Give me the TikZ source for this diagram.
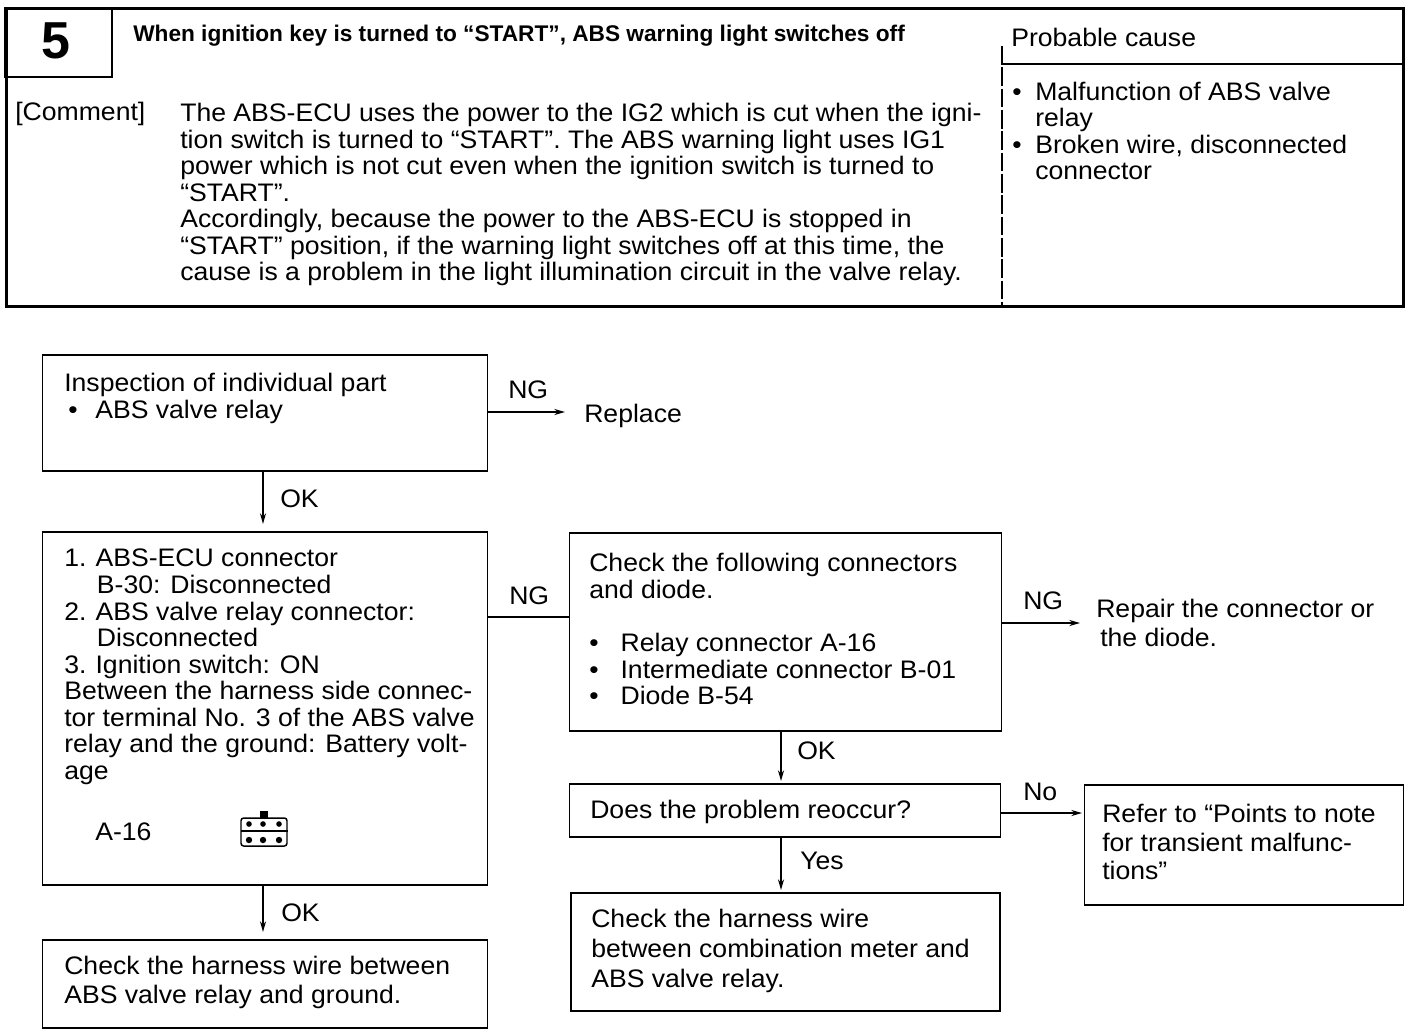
\documentclass[tikz,border=0pt]{standalone}
\usepackage{fontspec}
\setmainfont{Liberation Sans}
\newfontfamily\widefont[FakeStretch=1.05]{Liberation Sans}
\usetikzlibrary{arrows.meta}
\newcommand{\pxfont}{\widefont\fontsize{19pt}{19.9pt}\selectfont}
\newcommand{\numitem}[1]{\makebox[23.5pt][l]{#1}}
\tikzset{
  x=0.75pt,y=-0.75pt,
  thickline/.style={line width=2.2pt,black},
  thinline/.style={line width=1.3pt,black},
  flowbox/.style={draw=black,line width=1.4pt,anchor=north west,inner sep=0pt,fill=none},
  para/.style={anchor=north west,inner sep=0pt,align=left,font=\pxfont,text=black},
  tag/.style={anchor=base west,inner sep=0pt,font=\pxfont,text=black},
  flow/.style={draw=black,line width=1.3pt,-{Stealth[length=8pt,width=4.5pt]}},
  plainflow/.style={draw=black,line width=1.3pt}
}
\begin{document}
\begin{tikzpicture}
\useasboundingbox (0,0) rectangle (1408,1032);
\fill[white] (0,0) rectangle (1408,1032);
% header frame
\node[draw=black,line width=2.2pt,anchor=north west,minimum width=1397*0.75pt,minimum height=298*0.75pt,inner sep=0pt] (frame) at (5,7) {};
\node[draw=black,line width=1.6pt,anchor=north west,minimum width=107*0.75pt,minimum height=69*0.75pt,inner sep=0pt] (numbox) at (4,7) {};
\node[inner sep=0pt,font=\bfseries\fontsize{39pt}{39pt}\selectfont] (num) at (56,41) {5};
\node[tag,font=\bfseries\fontsize{17pt}{18pt}\selectfont] (title) at (133,41) {When ignition key is turned to “START”, ABS warning light switches off};
\node[tag] (pc) at (1011,46) {Probable cause};
\node[tag] (cmt) at (15,120) {[Comment]};
\node[para] (body) at (180,103) {The ABS-ECU uses the power to the IG2 which is cut when the igni-\\
tion switch is turned to “START”. The ABS warning light uses IG1\\
power which is not cut even when the ignition switch is turned to\\
“START”.\\
Accordingly, because the power to the ABS-ECU is stopped in\\
“START” position, if the warning light switches off at this time, the\\
cause is a problem in the light illumination circuit in the valve relay.};
\coordinate (pctop) at (1002,46);
\coordinate (pcbot) at (1002,305);
\coordinate (pcl) at (1002,64);
\coordinate (pcr) at (1403,64);
\draw[thinline,dash pattern=on 14pt off 2pt] (pctop) -- (pcbot);
\draw[thinline] (pcl) -- (pcr);
\node[tag] (c1) at (1012,100) {•};
\node[tag] (c1t) at (1035,100) {Malfunction of ABS valve};
\node[tag] (c1u) at (1035,126) {relay};
\node[tag] (c2) at (1012,153) {•};
\node[tag] (c2t) at (1035,153) {Broken wire, disconnected};
\node[tag] (c2u) at (1035,179) {connector};
% flow boxes
\node[flowbox,minimum width=445*0.75pt,minimum height=116*0.75pt] (b1) at (41.5,354) {};
\node[tag] (t1) at (64,391) {Inspection of individual part};
\node[tag] (t1b) at (68,418) {•};
\node[tag] (t1c) at (95,418) {ABS valve relay};
\node[tag] (replace) at (584,422) {Replace};
\node[flowbox,minimum width=445*0.75pt,minimum height=353*0.75pt] (b2) at (41.5,531) {};
\node[para] (t2) at (64,549) {\numitem{1.}ABS-ECU connector\\
\hspace*{24.5pt}B-30: Disconnected\\
\numitem{2.}ABS valve relay connector:\\
\hspace*{24.5pt}Disconnected\\
\numitem{3.}Ignition switch: ON\\
Between the harness side connec-\\
tor terminal No. 3 of the ABS valve\\
relay and the ground: Battery volt-\\
age};
\node[tag] (a16) at (95,840) {A-16};
\node[flowbox,minimum width=445*0.75pt,minimum height=88*0.75pt] (b3) at (41.5,939) {};
\node[para] (t3) at (64,956) {Check the harness wire between\\[1.8pt]ABS valve relay and ground.};
\node[flowbox,minimum width=432*0.75pt,minimum height=198*0.75pt] (b4) at (568.5,532) {};
\node[para] (t4) at (589,553) {Check the following connectors\\and diode.};
\node[para] (t4b) at (589,633) {•\hspace{16.5pt}Relay connector A-16\\•\hspace{16.5pt}Intermediate connector B-01\\•\hspace{16.5pt}Diode B-54};
\node[flowbox,minimum width=431*0.75pt,minimum height=53*0.75pt] (b5) at (568.5,783) {};
\node[para] (t5) at (590,800) {Does the problem reoccur?};
\node[flowbox,minimum width=429*0.75pt,minimum height=118*0.75pt] (b6) at (570,892) {};
\node[para] (t6) at (591,909) {Check the harness wire\\[2.6pt]between combination meter and\\[2.6pt]ABS valve relay.};
\node[flowbox,minimum width=319*0.75pt,minimum height=120*0.75pt] (b7) at (1083.5,784) {};
\node[para] (t7) at (1102,804) {Refer to “Points to note\\[1.6pt]for transient malfunc-\\[1.6pt]tions”};
\node[para] (t8) at (1096,599) {Repair the connector or\\[1.8pt]\hspace*{3pt}the diode.};
% connector terminals
\coordinate (r1) at (565,412);
\coordinate (r8) at (1080,623);
\coordinate (j1) at (263,524);
\coordinate (j2) at (263,932);
\coordinate (j3) at (781,781);
\coordinate (j4) at (781,890);
\coordinate (r7) at (1082,813);
\draw[flow] (b1.east|-r1) -- (r1);
\draw[flow] (b1.south-|j1) -- (j1);
\draw[flow] (b2.south-|j2) -- (j2);
\draw[plainflow] (b2.east|-0,617) -- (b4.west|-0,617);
\draw[flow] (b4.east|-r8) -- (r8);
\draw[flow] (b4.south-|j3) -- (j3);
\draw[flow] (b5.south-|j4) -- (j4);
\draw[flow] (b5.east|-r7) -- (r7);
% connector labels
\node[tag] (ng1) at (508,398) {NG};
\node[tag] (ok1) at (280,507) {OK};
\node[tag] (ng2) at (509,604) {NG};
\node[tag] (ok2) at (281,921) {OK};
\node[tag] (ng3) at (1023,609) {NG};
\node[tag] (ok3) at (797,759) {OK};
\node[tag] (no) at (1023,800) {No};
\node[tag] (yes) at (800,869) {Yes};
% connector pictogram
\node[draw=black,line width=1.1pt,rounded corners=2pt,minimum width=46*0.75pt,minimum height=28*0.75pt,inner sep=0pt] (pict) at (264,832) {};
\coordinate (pl) at (241,831);
\coordinate (pr) at (288,831);
\draw[thinline] (pl) -- (pr);
\fill[black] (260,811) rectangle (268,818);
\foreach \xx in {249,263,279}{
  \fill[black] (\xx,824) circle (2.8);
  \fill[black] (\xx,840) circle (3.2);
}
\end{tikzpicture}
\end{document}
